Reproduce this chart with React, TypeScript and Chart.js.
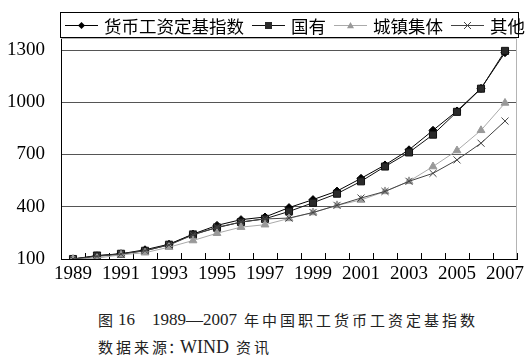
import React, { useEffect, useRef } from 'react';
import { Chart, registerables } from 'chart.js';

Chart.register(...registerables);

const years = ['1989', '1990', '1991', '1992', '1993', '1994', '1995', '1996', '1997', '1998', '1999', '2000', '2001', '2002', '2003', '2004', '2005', '2006', '2007'];
const seriesNames = ['货币工资定基指数', '国有', '城镇集体', '其他'];
const indexValues = [100, 118, 130, 153, 185, 243, 293, 326, 341, 395, 441, 490, 563, 640, 727, 839, 950, 1080, 1285];
const stateValues = [100, 120, 130, 147, 182, 241, 280, 312, 331, 373, 423, 475, 546, 631, 712, 814, 945, 1078, 1295];
const collectiveValues = [100, 105, 124, 136, 168, 206, 248, 283, 297, 333, 367, 408, 439, 488, 546, 631, 723, 839, 996];
const otherValues = [100, 115, 128, 148, 180, 238, 282, 312, 330, 335, 367, 408, 450, 488, 546, 592, 669, 765, 892];
const yTicks = [100, 400, 700, 1000, 1300];
const yMin = 100;
const yMax = 1369;

function drawMarker(ctx: CanvasRenderingContext2D, style: string, x: number, y: number, r: number, color: string) {
  ctx.save();
  ctx.fillStyle = color;
  ctx.strokeStyle = color;
  ctx.lineWidth = 1;
  ctx.beginPath();
  if (style === 'rectRot') {
    ctx.moveTo(x, y - r); ctx.lineTo(x + r, y); ctx.lineTo(x, y + r); ctx.lineTo(x - r, y); ctx.closePath(); ctx.fill();
  } else if (style === 'rect') {
    ctx.fillRect(x - r, y - r, 2 * r, 2 * r);
  } else if (style === 'triangle') {
    ctx.moveTo(x, y - r); ctx.lineTo(x + r, y + r * 0.8); ctx.lineTo(x - r, y + r * 0.8); ctx.closePath(); ctx.fill();
  } else {
    ctx.moveTo(x - r, y - r); ctx.lineTo(x + r, y + r); ctx.moveTo(x + r, y - r); ctx.lineTo(x - r, y + r); ctx.stroke();
  }
  ctx.restore();
}

const boxLegend = {
  id: 'boxLegend',
  afterDraw(chart: any) {
    const ctx: CanvasRenderingContext2D = chart.ctx;
    const a = chart.chartArea;
    ctx.save();
    ctx.strokeStyle = '#b4b4b4';
    ctx.lineWidth = 1;
    ctx.beginPath();
    ctx.moveTo(a.left, a.top + 0.5);
    ctx.lineTo(a.right - 0.5, a.top + 0.5);
    ctx.lineTo(a.right - 0.5, a.bottom);
    ctx.stroke();

    const boxL = 60.5, boxT = 12.5, boxR = 518.5, boxB = 37.5;
    ctx.fillStyle = '#fff';
    ctx.fillRect(boxL, boxT, boxR - boxL, boxB - boxT);
    ctx.strokeStyle = '#000';
    ctx.strokeRect(boxL, boxT, boxR - boxL, boxB - boxT);

    ctx.font = '17.5px "Noto Sans CJK SC"';
    ctx.textBaseline = 'middle';
    ctx.textAlign = 'left';
    const cy = 25;
    let x = 65;
    chart.data.datasets.forEach((ds: any) => {
      const lineLen = 33;
      ctx.strokeStyle = ds.borderColor;
      ctx.lineWidth = 1;
      ctx.beginPath();
      ctx.moveTo(x, cy + 0.5);
      ctx.lineTo(x + lineLen, cy + 0.5);
      ctx.stroke();
      drawMarker(ctx, ds.pointStyle, x + lineLen / 2, cy + 0.5, 3.5, ds.pointBackgroundColor || ds.borderColor);
      x += lineLen + 6;
      ctx.fillStyle = '#000';
      ctx.fillText(ds.label, x, cy + 1);
      x += ctx.measureText(ds.label).width + 8;
    });
    ctx.restore();
  },
};

export default function App() {
  const ref = useRef<HTMLCanvasElement | null>(null);

  useEffect(() => {
    if (!ref.current) return;
    const chart = new Chart(ref.current, {
      type: 'line',
      data: {
        labels: years,
        datasets: [
          { label: seriesNames[0], data: indexValues, borderColor: '#000', backgroundColor: '#000', pointBackgroundColor: '#000', pointBorderColor: '#000', pointStyle: 'rectRot', pointRadius: 4, borderWidth: 1, order: 4 },
          { label: seriesNames[1], data: stateValues, borderColor: '#111', backgroundColor: '#2a2a2a', pointBackgroundColor: '#2a2a2a', pointBorderColor: '#111', pointStyle: 'rect', pointRadius: 5, borderWidth: 1, order: 3 },
          { label: seriesNames[2], data: collectiveValues, borderColor: '#aaa', backgroundColor: '#999', pointBackgroundColor: '#999', pointBorderColor: '#999', pointStyle: 'triangle', pointRadius: 4.5, borderWidth: 1, order: 2 },
          { label: seriesNames[3], data: otherValues, borderColor: '#444', backgroundColor: '#444', pointBackgroundColor: '#444', pointBorderColor: '#444', pointStyle: 'crossRot', pointRadius: 5, borderWidth: 1, order: 1 },
        ] as any,
      },
      options: {
        animation: false,
        responsive: false,
        devicePixelRatio: 1,
        layout: { padding: { top: 38, right: 10, left: 0, bottom: 0 } },
        plugins: { legend: { display: false }, tooltip: { enabled: false } },
        elements: { line: { tension: 0 } },
        scales: {
          x: {
            type: 'category',
            offset: true,
            grid: { display: true, drawOnChartArea: false, drawTicks: true, tickLength: -6, offset: true, color: '#000' },
            border: { display: true, color: '#000', width: 1 },
            ticks: {
              autoSkip: false,
              maxRotation: 0,
              minRotation: 0,
              padding: 10,
              color: '#000',
              font: { family: '"Liberation Serif"', size: 19 },
              callback: (_v: any, i: number) => (i % 2 === 0 ? years[i] : ''),
            },
            afterFit: (s: any) => { s.height = 36; s.paddingLeft = 0; s.paddingRight = 0; },
          },
          y: {
            min: yMin,
            max: yMax,
            grid: { color: '#555', drawTicks: false, lineWidth: 1 },
            border: { display: true, color: '#000', width: 1 },
            ticks: {
              padding: 16,
              color: '#000',
              font: { family: '"Liberation Serif"', size: 19 },
              callback: (v: any) => String(v),
            },
            afterBuildTicks: (s: any) => { s.ticks = yTicks.map((v) => ({ value: v })); },
            afterFit: (s: any) => { s.width = 61; },
          },
        },
      } as any,
      plugins: [boxLegend],
    });
    return () => chart.destroy();
  }, []);

  const cjk = '"Noto Sans CJK SC", sans-serif';
  const serif = '"Liberation Serif", serif';
  const span = (left: number, top: number, text: string, font: string, size: number, ls = 0) => (
    <span style={{ position: 'absolute', left, top, fontFamily: font, fontSize: size, lineHeight: '20px', letterSpacing: ls, whiteSpace: 'pre', color: '#222' }}>{text}</span>
  );

  return (
    <div style={{ position: 'fixed', left: 0, top: 0, width: 527, height: 359, background: '#fff', overflow: 'hidden' }}>
      <canvas ref={ref} width={527} height={295} style={{ position: 'absolute', left: 0, top: 0, width: 527, height: 295 }} />
      {span(98, 310, '图', cjk, 15)}
      {span(118, 310, '16', serif, 17)}
      {span(152, 310, '1989—2007', serif, 17)}
      {span(244, 310, '年中国职工货币工资定基指数', cjk, 15, 3)}
      {span(98, 337, '数据来源', cjk, 15, 3)}
      {span(168, 337, '：', cjk, 15)}
      {span(180, 337, 'WIND', serif, 18)}
      {span(236, 337, '资讯', cjk, 15, 3)}
    </div>
  );
}
